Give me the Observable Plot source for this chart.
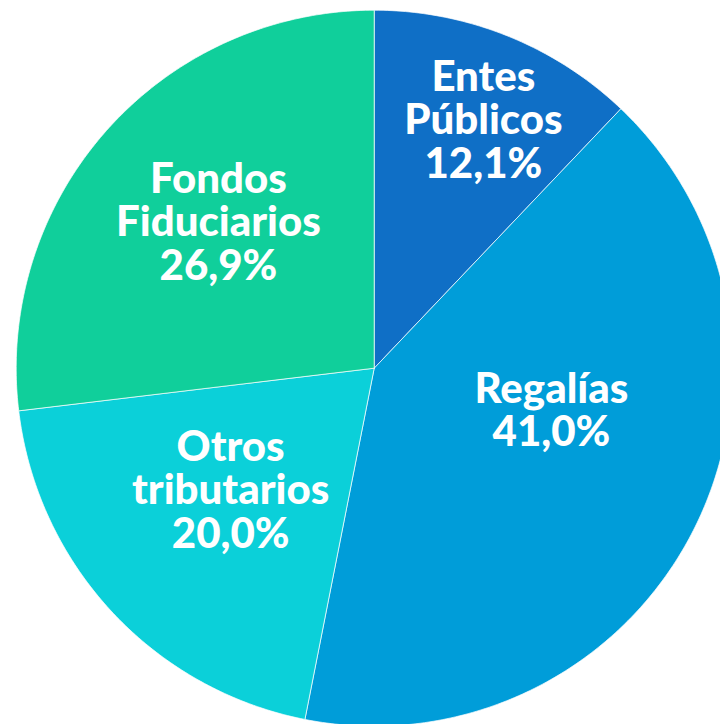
<!DOCTYPE html>
<html><head><meta charset="utf-8">
<script src="https://cdn.jsdelivr.net/npm/d3@7"></script>
<script src="https://cdn.jsdelivr.net/npm/@observablehq/plot@0.6"></script>
<style>html,body{margin:0;padding:0;background:#fff;overflow:hidden}</style>
</head><body><div id="chart"></div>
<script>
// Data
const categories = ["Entes Públicos", "Regalías", "Otros tributarios", "Fondos Fiduciarios"];
const labelNames = ["Entes\nPúblicos", "Regalías", "Otros\ntributarios", "Fondos\nFiduciarios"];
const shares = [12.1, 41.0, 20.0, 26.9];
const colors = ["#0F6FC6", "#009DD9", "#0BD0D9", "#10CF9B"];
// Label placement (unit-radius pie space)
const labelPlacement = [[0.305, 0.692], [0.495, -0.118], [-0.401, -0.342], [-0.435, 0.407]];

// Layout: pie centre and radius in pixels
const W = 720, H = 724, cx = 373.7, cy = 367.7, R = 358;

const pie = d3.pie().sort(null).value(d => d.share)(categories.map((c, i) => ({category: c, share: shares[i]})));
const slicePts = [];
for (const a of pie) {
  const c = a.data.category;
  slicePts.push({category: c, x: 0, y: 0});
  const n = Math.max(8, Math.ceil((a.endAngle - a.startAngle) * 80));
  for (let k = 0; k <= n; k++) {
    const t = a.startAngle + (a.endAngle - a.startAngle) * k / n;
    slicePts.push({category: c, x: Math.sin(t), y: Math.cos(t)});
  }
  slicePts.push({category: c, x: 0, y: 0});
}
const labels = categories.map((c, i) => ({
  category: c,
  x: labelPlacement[i][0], y: labelPlacement[i][1],
  text: labelNames[i] + "\n" + shares[i].toFixed(1).replace(".", ",") + "%"
}));

const chart = Plot.plot({
  width: W, height: H,
  margin: 0,
  x: {domain: [-cx / R, (W - cx) / R], range: [0, W], axis: null},
  y: {domain: [-(H - cy) / R, cy / R], range: [H, 0], axis: null},
  color: {domain: categories, range: colors},
  style: {background: "white"},
  marks: [
    Plot.line(slicePts, {x: "x", y: "y", z: "category", fill: "category", stroke: "white", strokeWidth: 1, strokeOpacity: 0.7, curve: "linear"}),
    Plot.text(labels, {x: "x", y: "y", text: "text", fill: "white", fontSize: 42, fontWeight: 900, fontFamily: "Lato, sans-serif", lineHeight: 1.03, lineAnchor: "middle"})
  ]
});
document.getElementById("chart").appendChild(chart);
</script>
</body></html>
